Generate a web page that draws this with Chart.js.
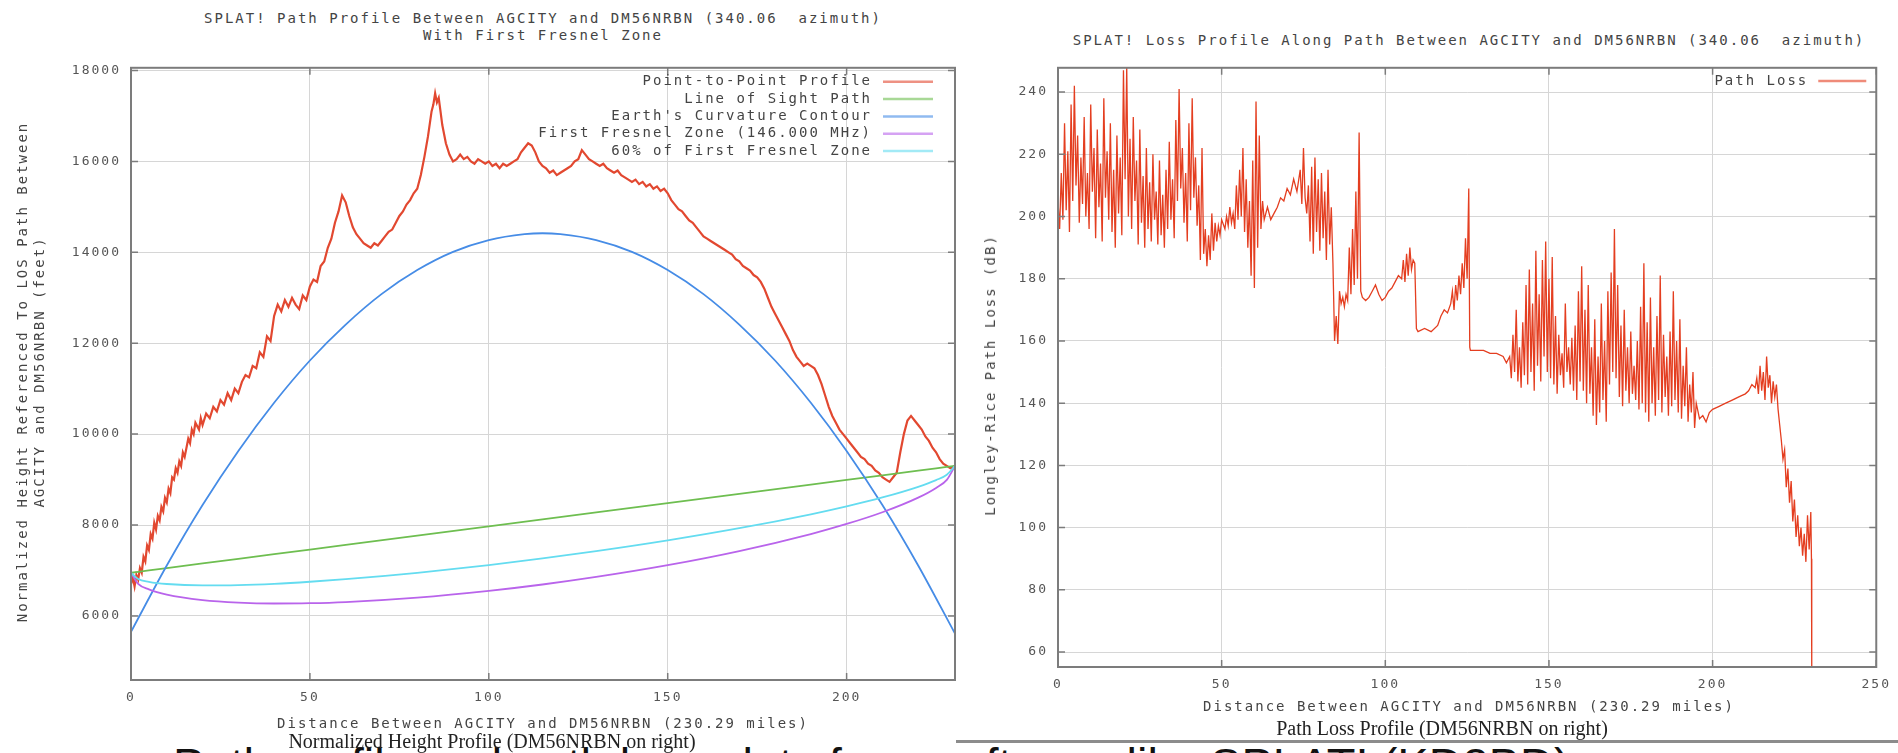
<!DOCTYPE html>
<html>
<head>
<meta charset="utf-8">
<title>SPLAT! path profile and path loss</title>
<script src="https://cdn.jsdelivr.net/npm/chart.js@4.4.0/dist/chart.umd.min.js"></script>
<style>
  body { margin: 0; width: 1898px; height: 753px; overflow: hidden; background: #fff; position: relative; }
  canvas { position: absolute; }
  .t { position: absolute; white-space: pre; color: #444; font: 14px "DejaVu Sans Mono", monospace;
       letter-spacing: 2px; transform: translate(-50%, -50%); }
  .rot { transform: translate(-50%, -50%) rotate(-90deg); }
  .cap { position: absolute; white-space: nowrap; color: #222; font: 20px "Liberation Serif", serif;
         transform: translate(-50%, -50%); }
  #big { position: absolute; left: 173px; top: 741px; white-space: nowrap; color: #111;
         font: 47px "Liberation Sans", Arial, sans-serif; line-height: 47px; }
  #rule { position: absolute; left: 956px; top: 740px; width: 942px; height: 3px; background: #8c8c8c; }
</style>
</head>
<body>
<div id="big">Path profile and path loss plots from software like SPLAT! (KD2BD)</div>

<canvas id="profile" width="975" height="670" style="left:0;top:50px"></canvas>
<canvas id="loss" width="923" height="657" style="left:975px;top:50px"></canvas>

<div class="t" style="left:543px;top:18px">SPLAT! Path Profile Between AGCITY and DM56NRBN (340.06  azimuth)</div>
<div class="t" style="left:543px;top:35px">With First Fresnel Zone</div>
<div class="t rot" style="left:22px;top:372px">Normalized Height Referenced To LOS Path Between</div>
<div class="t rot" style="left:39px;top:372px">AGCITY and DM56NRBN (feet)</div>
<div class="t" style="left:543px;top:723px">Distance Between AGCITY and DM56NRBN (230.29 miles)</div>
<div class="cap" style="left:492px;top:741px">Normalized Height Profile (DM56NRBN on right)</div>

<div class="t" style="left:1469px;top:40px">SPLAT! Loss Profile Along Path Between AGCITY and DM56NRBN (340.06  azimuth)</div>
<div class="t rot" style="left:990px;top:375px">Longley-Rice Path Loss (dB)</div>
<div class="t" style="left:1469px;top:706px">Distance Between AGCITY and DM56NRBN (230.29 miles)</div>
<div class="cap" style="left:1442px;top:728px">Path Loss Profile (DM56NRBN on right)</div>
<div id="rule"></div>

<script>
// ---- tick labels ----
var leftXTicks = [0, 50, 100, 150, 200];
var leftYTicks = [6000, 8000, 10000, 12000, 14000, 16000, 18000];
var rightXTicks = [0, 50, 100, 150, 200, 250];
var rightYTicks = [60, 80, 100, 120, 140, 160, 180, 200, 220, 240];

// ---- height profile (miles, feet) ----
var profileMiles = [
  0,0.5,1,1.5,2,2.5,3,3.5,4,4.5,
  5,5.5,6,6.5,7,7.5,8,8.5,9,9.5,
  10,10.5,11,11.5,12,12.5,13,13.5,14,14.5,
  15,16,16.5,17,17.5,18,19,19.5,20,21,
  22,23,24,25,26,27,28,29,30,31,
  32,33,34,35,36,37,38,39,40,41,
  42,43,44,45,46,47,48,49,50,51,
  52,53,54,55,56,57,58,59,60,61,
  62,63,64,65,66,67,68,69,70,71,
  72,73,74,75,76,77,78,79,80,81,
  82,83,84,84.5,85,85.5,86,86.5,87,88,
  89,90,91,92,93,94,95,96,97,98,
  99,100,101,102,103,104,105,106,107,108,
  109,110,111,112,113,114,115,116,117,118,
  119,120,121,122,123,124,125,126,127,128,
  129,130,131,132,133,134,135,136,137,138,
  139,140,141,142,143,144,145,146,147,148,
  149,150,151,152,153,154,155,156,157,158,
  159,160,161,162,163,164,165,166,167,168,
  169,170,171,172,173,174,175,176,177,178,
  179,180,181,182,183,184,185,186,187,188,
  189,190,191,192,193,194,195,196,197,198,
  199,200,201,202,203,204,205,206,207,208,
  209,210,211,212,213,214,215,216,217,218,
  219,220,221,222,223,224,225,226,227,228,
  229,230.29
];
var profileFeet = [
  6700,6850,6650,6900,6800,7050,6950,7300,7200,7550,
  7450,7800,7700,8050,7900,8200,8100,8400,8300,8600,
  8500,8800,8700,9050,9000,9250,9150,9400,9300,9600,
  9500,9900,9800,10100,10000,10250,10100,10350,10200,10450,
  10350,10600,10500,10750,10650,10900,10750,11000,10900,11150,
  11300,11250,11500,11450,11800,11700,12150,12050,12600,12850,
  12700,12950,12800,13000,12850,12750,13050,12950,13250,13400,
  13350,13700,13800,14100,14300,14650,14900,15250,15100,14800,
  14550,14400,14300,14200,14150,14100,14200,14150,14250,14350,
  14450,14500,14650,14800,14900,15050,15150,15300,15400,15700,
  16100,16550,17100,17250,17500,17300,17400,17100,16800,16400,
  16150,16000,16050,16150,16050,16100,16000,15950,16050,16000,
  15950,16000,15900,15950,15850,15950,15900,15950,16000,16050,
  16200,16300,16400,16350,16200,16000,15900,15850,15750,15800,
  15700,15750,15800,15850,15900,16000,16050,16250,16150,16050,
  16000,15950,15900,15950,15850,15800,15750,15800,15700,15650,
  15600,15550,15600,15500,15550,15450,15500,15400,15450,15350,
  15400,15300,15150,15050,14950,14900,14800,14700,14650,14550,
  14450,14350,14300,14250,14200,14150,14100,14050,14000,13950,
  13850,13800,13700,13650,13600,13500,13450,13350,13200,13000,
  12800,12650,12500,12350,12200,12050,11850,11700,11600,11500,
  11550,11500,11450,11300,11100,10850,10600,10400,10250,10100,
  10000,9900,9800,9700,9600,9500,9450,9350,9300,9200,
  9150,9050,9000,8950,9050,9150,9600,10000,10300,10400,
  10300,10200,10100,9950,9850,9700,9600,9450,9350,9300,
  9250,9300
];

// ---- line of sight and Fresnel zone curves ----
var zoneMiles   = [0,2,5,10,20,30,40,50,60,80,100,115,130,150,170,190,200,210,220,225,228,230.29];
var losFeet     = [6950,6970,7001,7052,7154,7256,7358,7460,7562,7766,7970,8123,8277,8481,8685,8889,8991,9093,9195,9246,9277,9300];
var fresnelFeet = [6950,6704,6584,6468,6348,6292,6273,6280,6305,6403,6551,6691,6857,7116,7426,7801,8023,8281,8603,8817,8993,9300];
var fresnel60Feet = [6950,6811,6751,6702,6670,6678,6707,6752,6808,6948,7118,7264,7425,7662,7930,8236,8410,8606,8840,8989,9107,9300];

// ---- earth's curvature ----
var earthMiles = [0,10,20,30,40,50,60,70,80,90,100,110,115,120,130,140,150,160,170,180,190,200,210,220,230.29];
var earthFeet  = [5650,7110,8440,9630,10690,11620,12410,13080,13610,14010,14270,14400,14420,14400,14270,14010,13610,13080,12410,11620,10690,9630,8440,7110,5610];

// ---- path loss (miles, dB) ----
var lossMiles = [
  0,0.5,1,1.5,2,2.5,3,3.5,4,4.5,5,5.5,6,6.5,7,7.5,8,8.5,9,9.5,
  10,10.5,11,11.5,12,12.5,13,13.5,14,14.5,15,15.5,16,16.5,17,17.5,18,18.5,19,19.5,
  20,20.5,21,21.5,22,22.5,23,23.5,24,24.5,25,25.5,26,26.5,27,27.5,28,28.5,29,29.5,
  30,30.5,31,31.5,32,32.5,33,33.5,34,34.5,35,35.5,36,36.5,37,37.5,38,38.5,39,39.5,
  40,40.5,41,41.5,42,42.5,43,43.5,44,44.5,45,45.5,46,
  46.5,47,47.5,48,48.5,49,49.5,50,51,51.5,52,52.5,53,53.5,54,54.5,55,55.5,56,56.5,
  57,57.5,58,58.5,59,59.5,60,60.5,61,61.5,62,62.5,63,64,
  65,66,67,68,69,70,71,72,73,74,74.5,75,75.5,76,
  76.5,77,77.5,78,78.5,79,79.5,80,80.5,81,81.5,82,82.5,83,83.5,84,84.5,85,85.5,86,86.5,
  87,87.5,88,88.5,89,89.5,90,90.5,91,91.5,92,92.5,93,
  94,95,96,97,98,99,100,101,102,103,104,105,
  105.5,106,106.5,107,107.5,108,108.5,109,109.5,
  110,112,114,116,117,118,119,120,
  120.5,121,121.5,122,122.5,123,123.5,124,124.5,125,125.5,125.8,
  126,128,130,132,134,136,137,138,
  138.5,139,139.5,140,140.5,141,141.5,142,142.5,143,
  143.5,144,144.5,145,145.5,146,146.5,147,147.5,148,
  148.5,149,149.5,150,150.5,151,151.5,152,152.5,153,
  153.5,154,154.5,155,155.5,156,156.5,157,157.5,158,
  158.5,159,159.5,160,160.5,161,161.5,162,162.5,163,
  163.5,164,164.5,165,165.5,166,166.5,167,167.5,168,
  168.5,169,169.5,170,170.5,171,171.5,172,172.5,173,
  173.5,174,174.5,175,175.5,176,176.5,177,177.5,178,
  178.5,179,179.5,180,180.5,181,181.5,182,182.5,183,
  183.5,184,184.5,185,185.5,186,186.5,187,187.5,188,
  188.5,189,189.5,190,190.5,191,191.5,192,192.5,193,
  193.5,194,194.5,195,196,197,198,199,
  200,202,204,206,208,210,211,212,213,213.5,
  214,214.5,215,215.5,216,216.5,217,217.5,218,218.5,
  219,219.5,220,220.5,221,221.5,222,222.5,223,223.5,
  224,224.5,225,225.5,226,226.5,227,227.5,228,228.5,
  229,229.5,230,230.2,230.29
];
var lossDb = [
  205,196,214,199,230,202,221,195,236,205,242,210,226,198,219,204,232,200,214,196,
  236,208,222,193,228,203,217,192,238,206,221,199,230,195,215,190,226,201,219,194,
  247,212,248,200,225,196,232,205,218,191,228,198,213,190,222,196,211,192,220,199,
  208,191,218,194,207,190,215,196,224,199,212,193,231,205,241,209,222,198,214,192,
  230,202,238,206,219,197,210,186,222,188,196,184,194,
  186,201,189,198,192,197,194,199,196,200,197,203,198,201,196,210,199,215,200,222,
  195,212,190,205,181,218,177,237,190,226,196,205,199,203,
  199,201,203,206,205,209,207,212,208,215,204,222,206,201,
  210,192,216,188,219,195,212,189,214,193,208,186,215,191,203,185,160,168,159,176,172,
  174,171,175,173,190,175,196,178,208,180,227,176,174,
  173,174,176,178,175,173,174,176,177,179,181,180,
  186,179,188,181,190,183,186,185,164,
  163,164,163,165,168,170,169,172,
  176,170,178,173,181,175,185,177,193,180,209,158,
  157,157,157,156,156,155,153,155,
  148,162,150,170,147,158,145,166,149,178,
  146,183,150,172,144,189,152,175,147,186,
  155,192,150,180,148,187,146,168,143,162,
  149,156,145,172,150,158,146,161,144,165,
  141,176,147,184,144,170,140,178,143,158,
  136,167,133,155,137,172,141,160,134,176,
  146,182,150,196,148,178,142,165,139,170,
  144,158,140,163,143,152,141,160,138,171,
  140,185,137,166,134,174,140,158,136,168,
  141,181,137,162,142,155,136,163,139,176,
  141,160,137,167,135,152,139,158,134,146,
  137,150,132,140,135,136,134,137,
  138,139,140,141,142,143,144,146,145,148,
  143,152,144,150,141,155,145,149,140,147,
  142,146,138,133,128,122,125,113,119,108,
  115,102,109,97,104,94,100,91,98,89,
  104,93,105,90,55
];

function pts(xs, ys) {
  return xs.map(function (x, i) { return {x: x, y: ys[i]}; });
}

var monoFont = '"DejaVu Sans Mono", monospace';

// gnuplot style frame, inner tick marks and key
var splatFrame = {
  id: 'splatFrame',
  beforeDraw: function (chart) { chart.ctx.letterSpacing = '2px'; },
  afterDatasetsDraw: function (chart, args, opts) {
    var ctx = chart.ctx, a = chart.chartArea, sx = chart.scales.x, sy = chart.scales.y;
    ctx.save();
    ctx.strokeStyle = '#7c7c7c';
    ctx.lineWidth = 2;
    ctx.strokeRect(a.left, a.top, a.right - a.left, a.bottom - a.top);
    ctx.lineWidth = 1.5;
    ctx.beginPath();
    sx.ticks.forEach(function (t) {
      var p = sx.getPixelForValue(t.value);
      ctx.moveTo(p, a.bottom); ctx.lineTo(p, a.bottom - 7);
      ctx.moveTo(p, a.top); ctx.lineTo(p, a.top + 7);
    });
    sy.ticks.forEach(function (t) {
      var p = sy.getPixelForValue(t.value);
      ctx.moveTo(a.left, p); ctx.lineTo(a.left + 7, p);
      ctx.moveTo(a.right, p); ctx.lineTo(a.right - 7, p);
    });
    ctx.stroke();

    ctx.font = '14px ' + monoFont;
    ctx.letterSpacing = '2px';
    ctx.textAlign = 'right';
    ctx.textBaseline = 'middle';
    chart.data.datasets.forEach(function (ds, i) {
      var yy = a.top + opts.top + i * opts.step;
      ctx.globalAlpha = 1;
      ctx.fillStyle = '#444';
      ctx.fillText(ds.label, a.right - opts.textGap, yy);
      ctx.globalAlpha = 0.6;
      ctx.strokeStyle = ds.borderColor;
      ctx.lineWidth = 2.5;
      ctx.beginPath();
      ctx.moveTo(a.right - opts.lineFrom, yy);
      ctx.lineTo(a.right - opts.lineTo, yy);
      ctx.stroke();
    });
    ctx.restore();
  }
};

function makeScales(xMin, xMax, xTicks, yMin, yMax, yTicks, yWidth) {
  var tickFont = {family: monoFont, size: 13};
  var grid = {color: '#d6d6d6', lineWidth: 1, drawTicks: false};
  return {
    x: {
      type: 'linear', min: xMin, max: xMax, grid: grid, border: {display: false},
      ticks: {font: tickFont, color: '#555', padding: 10, maxRotation: 0, autoSkip: false,
              callback: function (v) { return String(v); }},
      afterBuildTicks: function (s) { s.ticks = xTicks.map(function (v) { return {value: v}; }); },
      afterFit: function (s) { s.height = 40; }
    },
    y: {
      type: 'linear', min: yMin, max: yMax, grid: grid, border: {display: false},
      ticks: {font: tickFont, color: '#555', padding: 10, autoSkip: false,
              callback: function (v) { return String(v); }},
      afterBuildTicks: function (s) { s.ticks = yTicks.map(function (v) { return {value: v}; }); },
      afterFit: function (s) { s.width = yWidth; }
    }
  };
}

function lineSet(label, data, color, width, order, smooth) {
  return {
    label: label, data: data, borderColor: color, backgroundColor: color,
    borderWidth: width, pointRadius: 0, fill: false, order: order,
    tension: 0, cubicInterpolationMode: smooth ? 'monotone' : 'default'
  };
}

new Chart(document.getElementById('profile'), {
  type: 'line',
  data: {
    datasets: [
      lineSet('Point-to-Point Profile', pts(profileMiles, profileFeet), 'rgb(226,72,48)', 2.2, 4, false),
      lineSet('Line of Sight Path', pts(zoneMiles, losFeet), 'rgb(110,190,80)', 1.8, 3, false),
      lineSet("Earth's Curvature Contour", pts(earthMiles, earthFeet), 'rgb(70,140,230)', 1.8, 2, true),
      lineSet('First Fresnel Zone (146.000 MHz)', pts(zoneMiles, fresnelFeet), 'rgb(185,100,235)', 1.8, 1, true),
      lineSet('60% of First Fresnel Zone', pts(zoneMiles, fresnel60Feet), 'rgb(100,220,240)', 1.8, 0, true)
    ]
  },
  options: {
    responsive: false, animation: false,
    layout: {padding: {left: 0, top: 11, right: 20, bottom: 0}},
    scales: makeScales(0, 230.29, leftXTicks, 4590, 18060, leftYTicks, 131),
    plugins: {
      legend: {display: false}, tooltip: {enabled: false},
      splatFrame: {top: 14, step: 17.3, textGap: 83, lineFrom: 72, lineTo: 22}
    }
  },
  plugins: [splatFrame]
});

new Chart(document.getElementById('loss'), {
  type: 'line',
  data: {
    datasets: [
      lineSet('Path Loss', pts(lossMiles, lossDb), 'rgb(228,62,32)', 1.3, 0, false)
    ]
  },
  options: {
    responsive: false, animation: false,
    layout: {padding: {left: 0, top: 12.7, right: 18, bottom: 0}},
    scales: makeScales(0, 250, rightXTicks, 55.2, 247.8, rightYTicks, 83),
    plugins: {
      legend: {display: false}, tooltip: {enabled: false},
      splatFrame: {top: 13.3, step: 0, textGap: 68, lineFrom: 58, lineTo: 10}
    }
  },
  plugins: [splatFrame]
});
</script>
</body>
</html>
